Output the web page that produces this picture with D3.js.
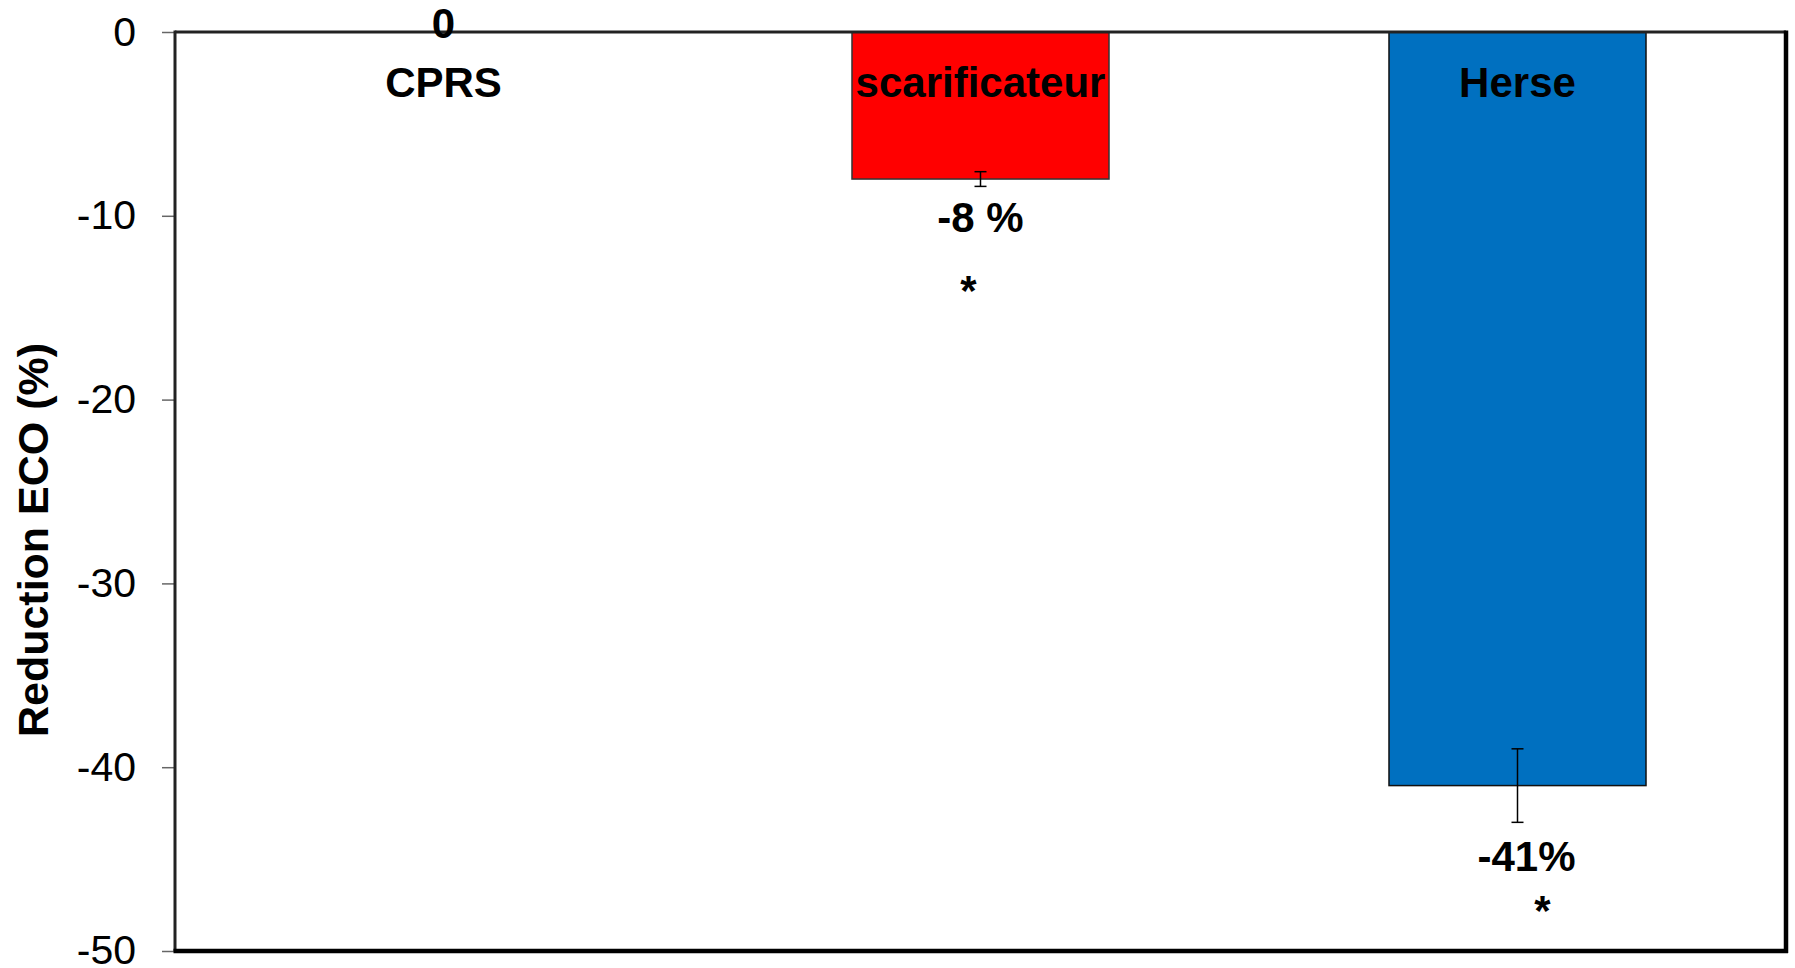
<!DOCTYPE html>
<html>
<head>
<meta charset="utf-8">
<script src="https://cdn.jsdelivr.net/npm/d3@7"></script>
<style>
  html, body { margin: 0; padding: 0; background: #fff; }
  svg { display: block; font-family: Arial, "Liberation Sans", sans-serif; }
</style>
</head>
<body>
<svg id="chart" width="1795" height="968"></svg>
<script>
// données
var categories = ["CPRS", "scarificateur", "Herse"];
var values = [0, -8, -41];
var errors = [0, 0.4, 2];
var valueLabels = ["0", "-8 %", "-41%"];
var stars = ["", "*", "*"];
var colors = [null, "#ff0000", "#0070c0"];
var yTicks = [0, -10, -20, -30, -40, -50];

// décalages des étiquettes (px), placés à la main comme dans l'original
var labelDy = [6, 46, 49];
var starDx = [0, -12, 25];

var svg = d3.select("#chart");
var m = { top: 32, right: 9, bottom: 17, left: 175 };
var W = 1795, H = 968;
var x0 = m.left, x1 = W - m.right, y0 = m.top, y1 = H - m.bottom;

var x = d3.scaleBand().domain(categories).range([x0, x1]).paddingInner(0.5214).paddingOuter(0.2607);
var y = d3.scaleLinear().domain([0, -50]).range([y0, y1]);

// axe Y
var gy = svg.append("g")
  .attr("transform", "translate(" + x0 + ",0)")
  .call(d3.axisLeft(y).tickValues(yTicks).tickSize(13).tickPadding(26).tickFormat(d3.format("d")));
gy.select(".domain").remove();
gy.selectAll(".tick line").attr("stroke", "#666").attr("stroke-width", 1.5);
gy.selectAll(".tick text")
  .attr("font-size", 41)
  .attr("fill", "#000")
  .attr("font-family", 'Arial, "Liberation Sans", sans-serif')
  .attr("dy", d => d === -50 ? "0.3em" : "0.32em")
  .text(d => d === 0 ? "0" : "-" + Math.abs(d));

// barres
svg.selectAll("rect.bar")
  .data(categories.map((c, i) => ({ c: c, v: values[i], e: errors[i], col: colors[i] })).filter(d => d.col))
  .enter().append("rect")
  .attr("class", "bar")
  .attr("x", d => x(d.c))
  .attr("width", x.bandwidth())
  .attr("y", y(0))
  .attr("height", d => y(d.v) - y(0))
  .attr("fill", d => d.col)
  .attr("stroke", d => d.col === "#ff0000" ? "#333" : "#111")
  .attr("stroke-width", 1.5);

// barres d'erreur
categories.forEach((c, i) => {
  if (!errors[i]) return;
  var cx = x(c) + x.bandwidth() / 2;
  var g = svg.append("g").attr("stroke", "#000").attr("stroke-width", 1.5);
  g.append("line").attr("x1", cx).attr("x2", cx).attr("y1", y(values[i] + errors[i])).attr("y2", y(values[i] - errors[i]));
  [values[i] + errors[i], values[i] - errors[i]].forEach(v => {
    g.append("line").attr("x1", cx - 6).attr("x2", cx + 6).attr("y1", y(v)).attr("y2", y(v));
  });
});

// cadre
var frame = svg.append("g").attr("fill", "none");
frame.append("line").attr("x1", x0).attr("x2", x1).attr("y1", y0).attr("y2", y0).attr("stroke", "#222").attr("stroke-width", 3);
frame.append("line").attr("x1", x0).attr("x2", x0).attr("y1", y0 - 1.5).attr("y2", y1).attr("stroke", "#222").attr("stroke-width", 3);
frame.append("line").attr("x1", x0 - 1.5).attr("x2", x1 + 2).attr("y1", y1).attr("y2", y1).attr("stroke", "#000").attr("stroke-width", 4.5);
frame.append("line").attr("x1", x1).attr("x2", x1).attr("y1", y0 - 1.5).attr("y2", y1 + 2).attr("stroke", "#000").attr("stroke-width", 4.5);

// noms des traitements
svg.selectAll("text.cat")
  .data(categories)
  .enter().append("text")
  .attr("class", "cat")
  .attr("x", d => x(d) + x.bandwidth() / 2)
  .attr("y", 97)
  .attr("text-anchor", "middle")
  .attr("font-size", 42)
  .attr("font-weight", "bold")
  .text(d => d);

// valeurs
categories.forEach((c, i) => {
  var cx = x(c) + x.bandwidth() / 2;
  var base = y(values[i] - errors[i]) + labelDy[i];
  svg.append("text")
    .attr("x", cx + (i === 2 ? 9 : 0))
    .attr("y", base)
    .attr("text-anchor", "middle")
    .attr("font-size", 42)
    .attr("font-weight", "bold")
    .text(valueLabels[i]);
  if (stars[i]) {
    svg.append("text")
      .attr("x", cx + starDx[i])
      .attr("y", base + (i === 1 ? 73 : 54))
      .attr("text-anchor", "middle")
      .attr("font-size", 42)
      .attr("font-weight", "bold")
      .text(stars[i]);
  }
});

// titre de l'axe
svg.append("text")
  .attr("transform", "translate(48,540) rotate(-90)")
  .attr("text-anchor", "middle")
  .attr("font-size", 43)
  .attr("font-weight", "bold")
  .text("Reduction ECO (%)");
</script>
</body>
</html>
